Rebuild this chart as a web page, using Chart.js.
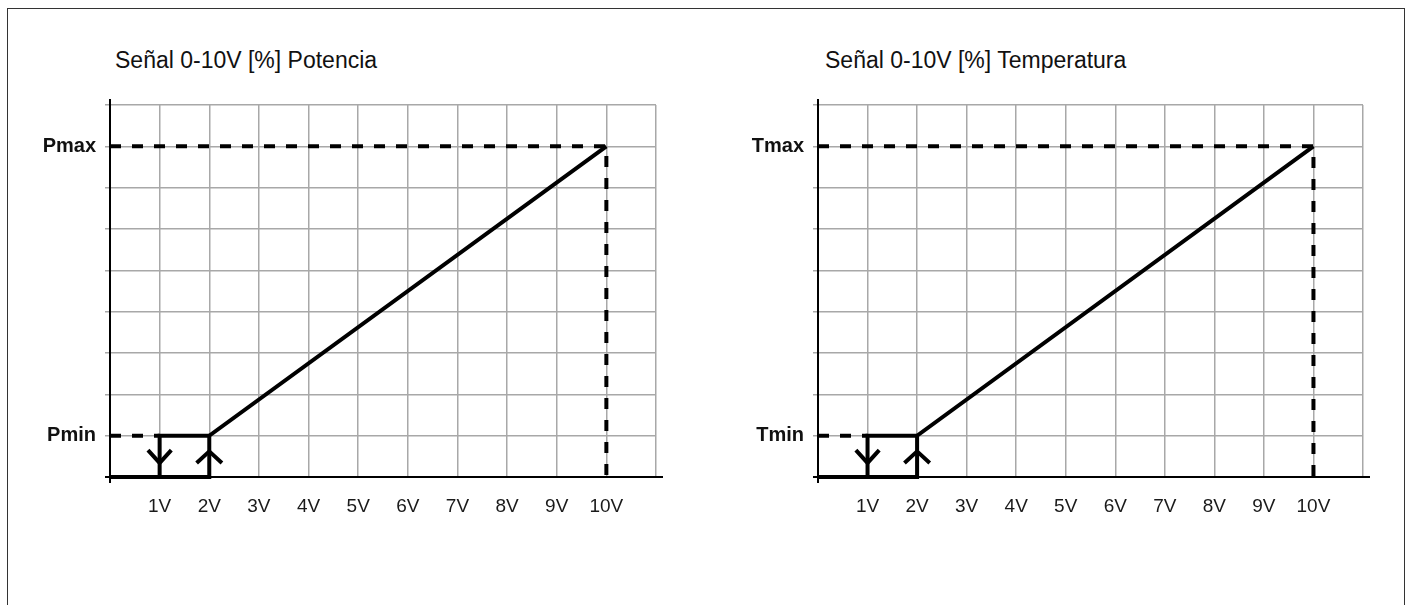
<!DOCTYPE html>
<html>
<head>
<meta charset="utf-8">
<script src="https://cdn.jsdelivr.net/npm/chart.js@4.4.0/dist/chart.umd.min.js"></script>
<style>
    html, body { margin: 0; padding: 0; background: #fff; }
    body { width: 1413px; height: 605px; position: relative; overflow: hidden; font-family: "Liberation Sans", Arial, sans-serif; }
    .marco { position: absolute; left: 7px; top: 8px; width: 1398px; height: 620px; border: 1.5px solid #333; box-sizing: border-box; }
    .titulo { position: absolute; top: 49px; font-size: 23px; line-height: 1; color: #111; white-space: nowrap; }
    canvas { position: absolute; top: 0; }
</style>
</head>
<body>
<div class="marco"></div>
<div class="titulo" id="titulo0" style="left:115px"></div>
<div class="titulo" id="titulo1" style="left:825px"></div>
<canvas id="chart0" width="706" height="605" style="left:0px"></canvas>
<canvas id="chart1" width="705" height="605" style="left:708px"></canvas>
<script>
// Datos de los dos graficos
const titulos = ['Señal 0-10V [%] Potencia', 'Señal 0-10V [%] Temperatura'];
const etiquetasMin = ['Pmin', 'Tmin'];
const etiquetasMax = ['Pmax', 'Tmax'];

const pasosX = [0, 1, 2, 3, 4, 5, 6, 7, 8, 9, 10, 11];
const etiquetasX = ['', '1V', '2V', '3V', '4V', '5V', '6V', '7V', '8V', '9V', '10V', ''];
const pasosY = [0, 1, 2, 3, 4, 5, 6, 7, 8, 9];
const nivelMin = 1;
const nivelMax = 8;

// Recorrido de encendido: base, subida en 2V y rampa hasta 10V
const encendidoX = [0, 2, 2, 10];
const encendidoY = [0, 0, 1, 8];
// Recorrido de apagado: de 2V a 1V y bajada
const apagadoX = [2, 1, 1];
const apagadoY = [1, 1, 0];
// Guias discontinuas
const guiaMaxX = [0, 10, 10];
const guiaMaxY = [8, 8, 0];
const guiaMinX = [0, 1];
const guiaMinY = [1, 1];
// Flechas de histeresis
const flechaBajaX = [0.765, 1, 1.235];
const flechaBajaY = [0.65, 0.34, 0.65];
const flechaSubeX = [1.745, 2, 2.255];
const flechaSubeY = [0.34, 0.62, 0.34];

const fuente = '"Liberation Sans", Arial, sans-serif';

function puntos(xs, ys) {
    return xs.map((x, i) => ({ x: x, y: ys[i] }));
}

// Ejes con un pequeño sobrante, como en el dibujo original
const ejesPlugin = {
    id: 'ejes',
    beforeDatasetsDraw(chart) {
        const { ctx, chartArea } = chart;
        ctx.save();
        ctx.strokeStyle = '#000';
        ctx.lineWidth = 2;
        ctx.beginPath();
        ctx.moveTo(chartArea.left, chartArea.top - 6);
        ctx.lineTo(chartArea.left, chartArea.bottom + 6);
        ctx.moveTo(chartArea.left - 5, chartArea.bottom);
        ctx.lineTo(chartArea.right + 7, chartArea.bottom);
        ctx.stroke();
        ctx.restore();
    }
};

function crearGrafico(idx) {
    document.getElementById('titulo' + idx).textContent = titulos[idx];
    const ctx = document.getElementById('chart' + idx).getContext('2d');

    const linea = (xs, ys, ancho, discontinua) => ({
        data: puntos(xs, ys),
        borderColor: '#000',
        borderWidth: ancho,
        borderDash: discontinua ? [11, 11] : [],
        borderJoinStyle: 'miter',
        pointRadius: 0,
        fill: false,
        tension: 0,
        clip: false
    });

    new Chart(ctx, {
        type: 'line',
        data: {
            datasets: [
                linea(guiaMaxX, guiaMaxY, 4, true),
                linea(guiaMinX, guiaMinY, 4, true),
                linea(encendidoX, encendidoY, 4, false),
                linea(apagadoX, apagadoY, 4, false),
                linea(flechaBajaX, flechaBajaY, 4, false),
                linea(flechaSubeX, flechaSubeY, 4, false)
            ]
        },
        options: {
            responsive: false,
            animation: false,
            events: [],
            layout: { padding: { top: 105, right: 50, bottom: 0, left: 0 } },
            plugins: {
                legend: { display: false },
                tooltip: { enabled: false }
            },
            scales: {
                x: {
                    type: 'linear',
                    min: 0,
                    max: 11,
                    afterBuildTicks: s => { s.ticks = pasosX.map(v => ({ value: v })); },
                    afterFit: s => { s.height = 128; },
                    border: { display: false },
                    grid: { color: '#a8a8a8', lineWidth: 1.5, drawTicks: false },
                    ticks: {
                        autoSkip: false,
                        maxRotation: 0,
                        padding: 18,
                        color: '#1a1a1a',
                        font: { family: fuente, size: 19 },
                        callback: (v, i) => etiquetasX[i]
                    }
                },
                y: {
                    type: 'linear',
                    min: 0,
                    max: 9,
                    afterBuildTicks: s => { s.ticks = pasosY.map(v => ({ value: v })); },
                    afterFit: s => { s.width = 110; },
                    border: { display: false },
                    grid: { color: '#a8a8a8', lineWidth: 1.5, tickLength: 5 },
                    ticks: {
                        autoSkip: false,
                        padding: 9,
                        color: '#111',
                        font: { family: fuente, size: 20, weight: 'bold' },
                        callback: v => v === nivelMax ? etiquetasMax[idx] : (v === nivelMin ? etiquetasMin[idx] : '')
                    }
                }
            }
        },
        plugins: [ejesPlugin]
    });
}

crearGrafico(0);
crearGrafico(1);
</script>
</body>
</html>
